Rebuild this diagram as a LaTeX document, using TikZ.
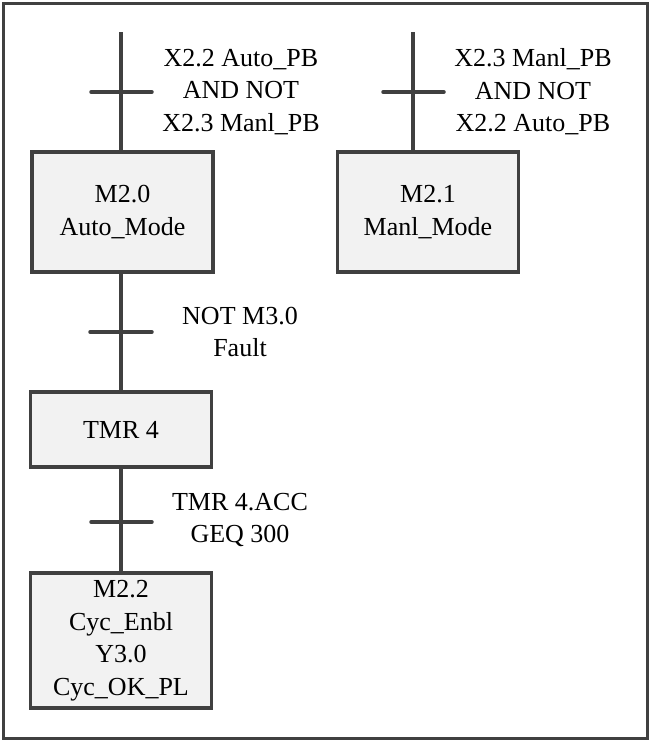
\documentclass[tikz,border=0pt]{standalone}
\usepackage{fontspec}
\setmainfont{Liberation Serif}
\usetikzlibrary{positioning,calc}
\definecolor{lineGray}{HTML}{404040}
\definecolor{boxGray}{HTML}{F2F2F2}
\tikzset{
stepbox/.style = {draw=lineGray, fill=boxGray, rectangle, align=center, line width=3.5pt, inner sep=0pt, minimum width=181pt},
guard/.style = {align=center, inner sep=0pt},
link/.style = {draw=lineGray, line width=3.5pt},
bar/.style = {draw=lineGray, line width=3.5pt, line cap=round}
}

\begin{document}
\begin{tikzpicture}[x=1pt, y=-1pt, font=\fontsize{26}{32.5}\selectfont]
    \useasboundingbox (0,0) rectangle (652,742);
    \draw [draw=lineGray, line width=3pt] (3,3) rectangle (647,738);
    % steps
    \node [stepbox, minimum height=120pt] (autoM) at (122.5,212) {M2.0\\Auto\_Mode};
    \node [stepbox, minimum height=120pt] (manlM) at (428,212) {M2.1\\Manl\_Mode};
    \node [stepbox, minimum height=75pt] (tmr) at (121,429.5) {TMR 4};
    \node [stepbox, minimum height=135pt] (cyc) at (121,640.5) {M2.2\\Cyc\_Enbl\\Y3.0\\Cyc\_OK\_PL};
    % entry lines
    \coordinate (topA) at (121,32);
    \coordinate (topB) at (413,32);
    \draw [link] (topA) -- (topA |- autoM.north);
    \draw [link] (topB) -- (topB |- manlM.north);
    \draw [link] (autoM.south -| topA) -- (tmr.north -| topA);
    \draw [link] (tmr.south -| topA) -- (cyc.north -| topA);
    % transitions
    \coordinate (tA) at (121,92);
    \coordinate (tB) at (413,92);
    \coordinate (tC) at (121,332);
    \coordinate (tD) at (121,522);
    \draw [bar] ($(tA)+(-30,0)$) -- ($(tA)+(31,0)$);
    \draw [bar] ($(tB)+(-30,0)$) -- ($(tB)+(31,0)$);
    \draw [bar] ($(tC)+(-31,0)$) -- ($(tC)+(31,0)$);
    \draw [bar] ($(tD)+(-30,0)$) -- ($(tD)+(31,0)$);
    \node [guard] (gA) at ($(tA)+(120,0)$) {X2.2 Auto\_PB\\AND NOT\\X2.3 Manl\_PB};
    \node [guard] (gB) at ($(tB)+(120,0)$) {X2.3 Manl\_PB\\AND NOT\\X2.2 Auto\_PB};
    \node [guard] (gC) at ($(tC)+(119,0)$) {NOT M3.0\\Fault};
    \node [guard] (gD) at ($(tD)+(119,-2)$) {TMR 4.ACC\\GEQ 300};
\end{tikzpicture}
\end{document}
